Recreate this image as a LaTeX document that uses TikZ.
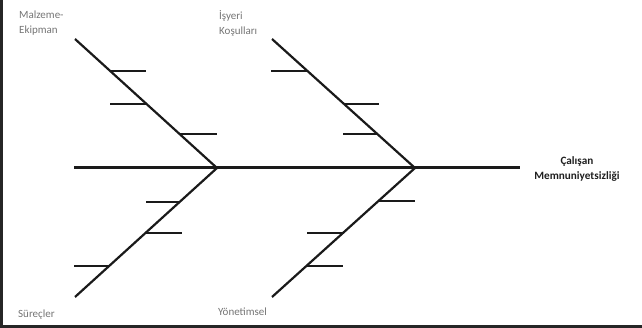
\documentclass[tikz,border=0pt]{standalone}
\usepackage{fontspec}
\setmainfont{Carlito}
\definecolor{linec}{HTML}{1A1A1A}
\definecolor{labc}{HTML}{747474}
\definecolor{headc}{HTML}{1E1E1E}
\begin{document}
\begin{tikzpicture}[x=1pt,y=-1pt,
  spine/.style={draw=linec,line width=3pt},
  bone/.style={draw=linec,line width=2.2pt},
  tick/.style={draw=linec,line width=2pt},
  frame/.style={draw=black!85,line width=2.5pt},
  lab/.style={inner sep=0pt,anchor=base west,text=labc,font=\fontsize{11}{15}\selectfont,align=left},
  head/.style={inner sep=0pt,anchor=base,text=headc,font=\bfseries\fontsize{11.2}{15}\selectfont,align=center}]
\useasboundingbox (0,0) rectangle (642,328);
\draw[frame] (1.5,0) -- (1.5,326.5) -- (642,326.5);
% spine
\coordinate (tail) at (74,168);
\coordinate (j1) at (217,168);
\coordinate (j2) at (415,168);
\coordinate (headpt) at (520,168);
\draw[spine] (tail) -- (headpt);
% bones
\coordinate (ul) at (75,39);
\coordinate (ur) at (272,39);
\coordinate (ll) at (75,297);
\coordinate (lr) at (272,297);
\draw[bone] (ul) -- (j1);
\draw[bone] (ur) -- (j2);
\draw[bone] (ll) -- (j1);
\draw[bone] (lr) -- (j2);
% ticks upper-left
\coordinate (a1) at (110.2,71);  \coordinate (a1e) at (146,71);
\coordinate (a2) at (146.6,104); \coordinate (a2e) at (110,104);
\coordinate (a3) at (179.6,134); \coordinate (a3e) at (217,134);
\draw[tick] (a1) -- (a1e);
\draw[tick] (a2) -- (a2e);
\draw[tick] (a3) -- (a3e);
% ticks upper-right
\coordinate (b1) at (307.5,71);  \coordinate (b1e) at (271,71);
\coordinate (b2) at (344.1,104); \coordinate (b2e) at (379,104);
\coordinate (b3) at (377.3,134); \coordinate (b3e) at (343,134);
\draw[tick] (b1) -- (b1e);
\draw[tick] (b2) -- (b2e);
\draw[tick] (b3) -- (b3e);
% ticks lower-left
\coordinate (c1) at (179.6,202); \coordinate (c1e) at (146,202);
\coordinate (c2) at (145.4,233); \coordinate (c2e) at (182,233);
\coordinate (c3) at (109.1,266); \coordinate (c3e) at (74,266);
\draw[tick] (c1) -- (c1e);
\draw[tick] (c2) -- (c2e);
\draw[tick] (c3) -- (c3e);
% ticks lower-right
\coordinate (d1) at (378.4,201); \coordinate (d1e) at (415,201);
\coordinate (d2) at (343,233);   \coordinate (d2e) at (307,233);
\coordinate (d3) at (306.4,266); \coordinate (d3e) at (343,266);
\draw[tick] (d1) -- (d1e);
\draw[tick] (d2) -- (d2e);
\draw[tick] (d3) -- (d3e);
% labels
\node[lab] (malz) at (19,33.5) {Malzeme-\\Ekipman};
\node[lab] (isy) at (219,35) {İşyeri\\Koşulları};
\node[lab] (surec) at (18,317) {Süreçler};
\node[lab] (yonet) at (218,316) {Yönetimsel};
\node[head] (calis) at (577,180) {Çalışan\\Memnuniyetsizliği};
\end{tikzpicture}
\end{document}
